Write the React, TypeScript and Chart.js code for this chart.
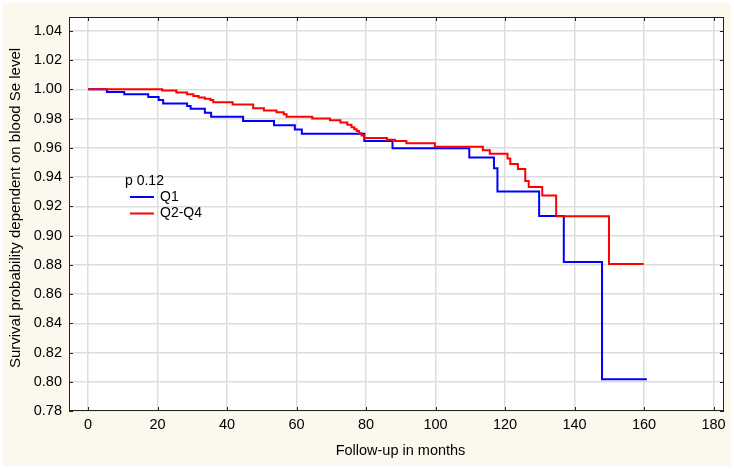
import React, { useEffect, useRef } from "react";
import { Chart, registerables } from "chart.js";

Chart.register(...registerables);

// Kaplan-Meier steps (time in months, survival after the drop)
const q1Months = [0, 5.4, 10.4, 17.3, 20.3, 21.6, 28.5, 29.5, 33.6, 35.4, 44.6, 53.5, 59.5, 61.5, 79.5, 87.6, 109.7, 116.8, 117.8, 129.8, 136.9, 147.9, 160.8];
const q1Survival = [1.0, 0.9982, 0.9966, 0.9947, 0.9927, 0.9904, 0.9886, 0.9868, 0.984, 0.9813, 0.9783, 0.9755, 0.9726, 0.9696, 0.9646, 0.9597, 0.9534, 0.9461, 0.9301, 0.9134, 0.882, 0.8017, 0.8017];

const q24Months = [0, 21.3, 25.4, 28.5, 30.3, 31.8, 33.6, 35.2, 36.0, 41.6, 47.5, 50.6, 54.2, 56.3, 57.1, 64.5, 69.6, 72.6, 74.6, 75.8, 76.6, 77.3, 78.0, 78.7, 79.4, 86.0, 88.3, 91.6, 99.8, 113.6, 115.6, 120.7, 121.5, 123.7, 125.8, 126.8, 130.7, 134.7, 149.9, 159.9];
const q24Survival = [1.0, 0.9993, 0.9978, 0.9966, 0.9955, 0.9945, 0.9936, 0.9927, 0.9912, 0.9897, 0.987, 0.9855, 0.9843, 0.983, 0.9813, 0.98, 0.9789, 0.9774, 0.9758, 0.9741, 0.9727, 0.9715, 0.97, 0.9684, 0.9668, 0.9656, 0.9646, 0.9631, 0.9607, 0.9584, 0.9559, 0.9527, 0.949, 0.9456, 0.9374, 0.9333, 0.9274, 0.9132, 0.8805, 0.8805];

const xTicks = [0, 20, 40, 60, 80, 100, 120, 140, 160, 180];
const yTicks = [0.78, 0.8, 0.82, 0.84, 0.86, 0.88, 0.9, 0.92, 0.94, 0.96, 0.98, 1.0, 1.02, 1.04];

const seriesNames = ["Q1", "Q2-Q4"];
const legendTitle = "p 0.12";
const xTitle = "Follow-up in months";
const yTitle = "Survival probability dependent on blood Se level";

const FONT = "'Liberation Sans', Arial, sans-serif";
const BLUE = "#0000FF";
const RED = "#FF0000";

export default function App() {
  const ref = useRef<HTMLCanvasElement>(null);

  useEffect(() => {
    const canvas = ref.current;
    if (!canvas) return;

    const q1Data = q1Months.map((m, i) => ({ x: m, y: q1Survival[i] }));
    const q24Data = q24Months.map((m, i) => ({ x: m, y: q24Survival[i] }));

    const framePlugin = {
      id: "framePlugin",
      beforeDraw(chart: any) {
        const c = chart.ctx;
        const a = chart.chartArea;
        c.save();
        c.fillStyle = "#FFFFFF";
        c.fillRect(0, 0, chart.width, chart.height);
        c.fillStyle = "#FCF8EE";
        c.fillRect(3, 3, chart.width - 6, chart.height - 6);
        c.fillStyle = "#FFFFFF";
        c.fillRect(a.left, a.top, a.right - a.left, a.bottom - a.top);
        c.restore();
      },
      afterDraw(chart: any) {
        const c = chart.ctx;
        const a = chart.chartArea;
        const xs = chart.scales.x;
        const ys = chart.scales.y;
        c.save();
        c.strokeStyle = "#222222";
        c.lineWidth = 1;
        c.strokeRect(Math.round(a.left) + 0.5, Math.round(a.top) + 0.5, Math.round(a.right - a.left) - 1, Math.round(a.bottom - a.top) - 1);
        // inward tick marks
        c.beginPath();
        xTicks.forEach((v) => {
          const px = Math.round(xs.getPixelForValue(v)) + 0.5;
          c.moveTo(px, a.bottom);
          c.lineTo(px, a.bottom - 4);
          c.moveTo(px, a.top);
          c.lineTo(px, a.top + 4);
        });
        yTicks.forEach((v) => {
          const py = Math.round(ys.getPixelForValue(v)) + 0.5;
          c.moveTo(a.left, py);
          c.lineTo(a.left + 4, py);
          c.moveTo(a.right, py);
          c.lineTo(a.right - 4, py);
        });
        c.stroke();

        // axis titles
        c.fillStyle = "#000000";
        c.font = `14.5px ${FONT}`;
        c.textAlign = "center";
        c.textBaseline = "middle";
        c.fillText(xTitle, (a.left + a.right) / 2 + 4, 451);
        c.save();
        c.translate(16, 208);
        c.rotate(-Math.PI / 2);
        c.font = `15px ${FONT}`;
        c.fillText(yTitle, 0, 0);
        c.restore();

        // legend
        c.font = `14px ${FONT}`;
        c.fillStyle = "#000000";
        c.textBaseline = "middle";
        c.textAlign = "left";
        c.fillText(legendTitle, 125, 181);
        c.lineWidth = 2;
        c.strokeStyle = BLUE;
        c.beginPath();
        c.moveTo(130, 197);
        c.lineTo(154, 197);
        c.stroke();
        c.fillText(seriesNames[0], 160, 197);
        c.strokeStyle = RED;
        c.beginPath();
        c.moveTo(130, 213.5);
        c.lineTo(154, 213.5);
        c.stroke();
        c.fillText(seriesNames[1], 160, 213);
        c.restore();
      },
    };

    const chart = new Chart(canvas, {
      type: "line",
      data: {
        datasets: [
          {
            label: seriesNames[1],
            data: q24Data,
            borderColor: RED,
            backgroundColor: RED,
            borderWidth: 2,
            stepped: "before",
            pointRadius: 0,
            fill: false,
          },
          {
            label: seriesNames[0],
            data: q1Data,
            borderColor: BLUE,
            backgroundColor: BLUE,
            borderWidth: 2,
            stepped: "before",
            pointRadius: 0,
            fill: false,
          },
        ],
      },
      options: {
        animation: false,
        responsive: false,
        maintainAspectRatio: false,
        layout: { padding: { left: 0, top: 17, right: 10, bottom: 0 } },
        plugins: {
          legend: { display: false },
          tooltip: { enabled: false },
        },
        scales: {
          x: {
            type: "linear",
            min: -5.5,
            max: 183,
            afterBuildTicks: (scale: any) => {
              scale.ticks = xTicks.map((v) => ({ value: v }));
            },
            afterFit: (scale: any) => {
              scale.height = 58;
            },
            grid: { color: "#DDDDDD", lineWidth: 1.5, drawTicks: false },
            border: { display: false },
            ticks: {
              padding: 5,
              color: "#000000",
              font: { family: FONT, size: 14.5 },
              callback: (v: any) => String(v),
            },
            title: { display: false },
          },
          y: {
            type: "linear",
            min: 0.78,
            max: 1.0495,
            afterBuildTicks: (scale: any) => {
              scale.ticks = yTicks.map((v) => ({ value: v }));
            },
            afterFit: (scale: any) => {
              scale.width = 69;
            },
            grid: { color: "#DDDDDD", lineWidth: 1.5, drawTicks: false },
            border: { display: false },
            ticks: {
              padding: 7,
              color: "#000000",
              font: { family: FONT, size: 14.5 },
              callback: (v: any) => Number(v).toFixed(2),
            },
            title: { display: false },
          },
        },
      },
      plugins: [framePlugin],
    });

    return () => {
      chart.destroy();
    };
  }, []);

  return (
    <div style={{ position: "absolute", left: 0, top: 0, width: 734, height: 469 }}>
      <canvas ref={ref} width={734} height={469} style={{ display: "block" }} />
    </div>
  );
}
